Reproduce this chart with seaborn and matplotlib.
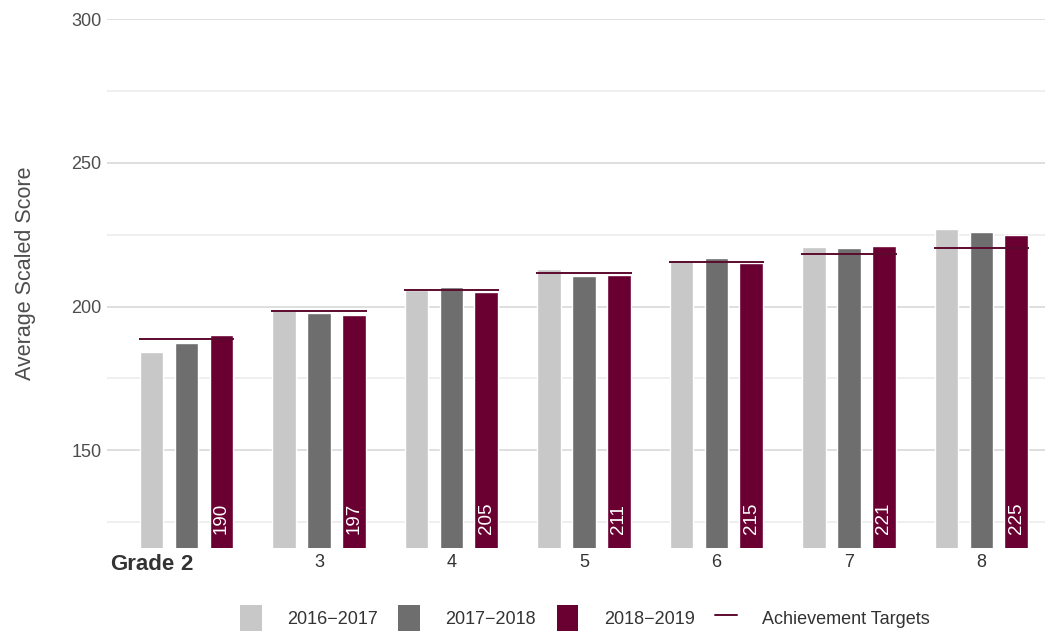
import numpy as np
import pandas as pd
import matplotlib
matplotlib.use("Agg")
import matplotlib.pyplot as plt
import matplotlib.transforms as mtransforms
from matplotlib.patches import Patch
from matplotlib.lines import Line2D
import seaborn as sns

# ---- data -------------------------------------------------------------
grades = ["2", "3", "4", "5", "6", "7", "8"]
years = ["2016\u22122017", "2017\u22122018", "2018\u22122019"]
scores_2016_2017 = [184.1, 199.1, 205.7, 212.9, 216.1, 220.7, 227.0]
scores_2017_2018 = [187.2, 197.7, 206.7, 210.5, 216.9, 220.3, 226.0]
scores_2018_2019 = [190, 197, 205, 211, 215, 221, 225]
targets = [188.6, 198.4, 205.8, 211.6, 215.5, 218.4, 220.2]

colors = ["#c8c8c8", "#6e6e6e", "#6a0032"]
target_color = "#5c0a2e"

df = pd.DataFrame({
    "grade": grades * 3,
    "year": np.repeat(years, len(grades)),
    "score": scores_2016_2017 + scores_2017_2018 + scores_2018_2019,
})

# ---- style ------------------------------------------------------------
sns.set_theme(style="white")
plt.rcParams["font.family"] = ["Liberation Sans", "DejaVu Sans"]

fig = plt.figure(figsize=(10.45, 6.35), dpi=100)
ax = fig.add_axes([107 / 1045, 1 - 548 / 635, 1 - 107 / 1045, (548 - 19) / 635])

sns.barplot(data=df, x="grade", y="score", hue="year", palette=colors,
            width=0.79, gap=0.32, saturation=1, legend=False, ax=ax, zorder=3)

ymin = 116
ax.set_ylim(ymin, 300)
ax.set_xlim(-0.6, 6.48)

# gridlines: labelled majors and unlabelled minors
ax.set_yticks([150, 200, 250, 300])
ax.set_yticks([125, 175, 225, 275], minor=True)
ax.yaxis.grid(True, which="major", color="#d6d6d6", linewidth=1.1, zorder=0)
ax.yaxis.grid(True, which="minor", color="#ebebeb", linewidth=1.1, zorder=0)
ax.xaxis.grid(False)
ax.set_axisbelow(True)
for s in ax.spines.values():
    s.set_visible(False)
ax.tick_params(axis="both", which="both", length=0)
ax.tick_params(axis="y", pad=4, labelsize=13, labelcolor="#4d4d4d")
ax.tick_params(axis="x", pad=4, labelsize=13, labelcolor="#333333")

ax.set_xlabel("")
ax.set_ylabel("Average Scaled Score", fontsize=15.5, color="#4d4d4d")
ax.yaxis.set_label_coords((36 - 107) / 938, 0.52)

# first tick reads "Grade 2"
ax.set_xticks(range(len(grades)))
xt = ax.get_xticklabels()
xt[0].set_fontweight("bold")
xt[0].set_fontsize(16)
ax.set_xticklabels(xt)
trans = mtransforms.blended_transform_factory(ax.transData, ax.transAxes)
ax.annotate("Grade", xy=(0, 0), xycoords=trans, xytext=(-9, -4),
            textcoords="offset points", ha="right", va="top",
            fontsize=16, fontweight="bold", color="#333333")

# achievement targets spanning each grade's bars
xs = np.arange(len(grades))
ax.hlines(targets, xs - 0.36, xs + 0.36, colors=target_color,
          linewidth=1.4, zorder=4)

# value labels at the base of the latest-year bars
for patch, v in zip(ax.containers[2], scores_2018_2019):
    cx = patch.get_x() + patch.get_width() / 2
    ax.annotate(f"{v:.0f}", xy=(cx, ymin), xytext=(0, 10),
                textcoords="offset points", rotation=90, ha="center",
                va="bottom", color="white", fontsize=13.5, zorder=5)

# legend
handles = [Patch(facecolor=c, edgecolor="none") for c in colors]
handles.append(Line2D([0], [0], color=target_color, linewidth=1.4))
labels = years + ["Achievement Targets"]
fig.legend(handles, labels, loc="center", bbox_to_anchor=(585 / 1045, 1 - 618 / 635),
           ncol=4, frameon=False, fontsize=13, handlelength=1.2, handleheight=1.8,
           handletextpad=1.4, columnspacing=1.15, labelcolor="#333333")

fig.savefig("out.png", dpi=100)
